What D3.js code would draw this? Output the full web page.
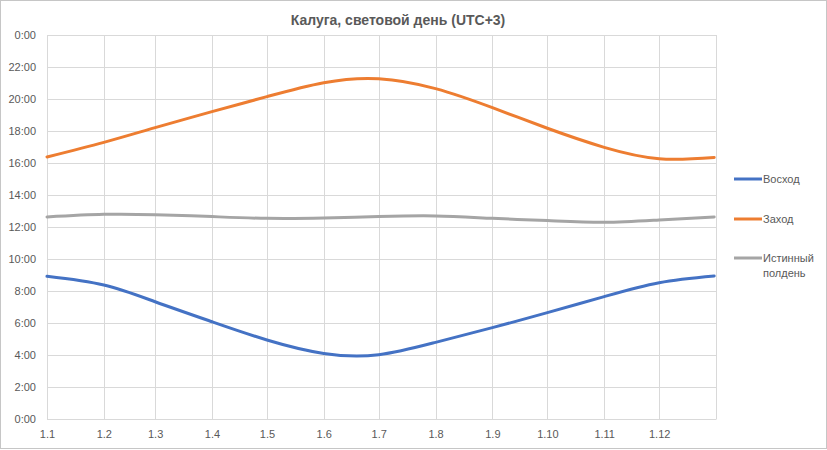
<!DOCTYPE html>
<html>
<head>
<meta charset="utf-8">
<script src="https://cdn.jsdelivr.net/npm/d3@7"></script>
<style>
  html, body { margin: 0; padding: 0; background: #fff; }
  svg { display: block; }
  text { font-family: "Liberation Sans", "DejaVu Sans", sans-serif; fill: #595959; }
</style>
</head>
<body>
<svg id="chart" width="827" height="450"></svg>
<script>
// ---- Data (hours, UTC+3) ----
const dates = ["2023-01-01","2023-02-01","2023-03-01","2023-04-01","2023-05-01","2023-06-01","2023-07-01","2023-08-01","2023-09-01","2023-10-01","2023-11-01","2023-12-01","2023-12-31"];
const sunriseValues = [8.92, 8.375, 7.33, 6.08, 4.94, 4.10, 4.02, 4.79, 5.71, 6.65, 7.65, 8.52, 8.94];
const sunsetValues  = [16.375, 17.29, 18.21, 19.21, 20.15, 21.02, 21.27, 20.65, 19.46, 18.17, 16.98, 16.27, 16.35];
const noonValues    = [12.625, 12.79, 12.77, 12.65, 12.54, 12.56, 12.65, 12.69, 12.54, 12.40, 12.29, 12.44, 12.63];

const seriesNames = ["Восход", "Заход", "Истинный полдень"];
const seriesColors = ["#4472C4", "#ED7D31", "#A5A5A5"];
const yTickValues = [0, 2, 4, 6, 8, 10, 12, 14, 16, 18, 20, 22, 24];
const titleText = "Калуга, световой день (UTC+3)";
const xDomain = ["2023-01-01", "2024-01-01"];

// ---- Build ----
const parse = d3.utcParse("%Y-%m-%d");
const mk = vs => dates.map((d, i) => ({ date: parse(d), v: vs[i] }));
const series = [mk(sunriseValues), mk(sunsetValues), mk(noonValues)];

const svg = d3.select("#chart");
const W = 827, H = 450;
const plot = { left: 47, right: 716, top: 35, bottom: 419 };

// outer border
svg.append("rect").attr("x", 0.5).attr("y", 0.5).attr("width", W - 1).attr("height", H - 2)
  .attr("fill", "#fff").attr("stroke", "#c6c6c6");

const x = d3.scaleUtc().domain(xDomain.map(parse)).range([plot.left, plot.right]);
const y = d3.scaleLinear().domain([0, 24]).range([plot.bottom, plot.top]);

const monthTicks = d3.utcMonth.range(parse(xDomain[0]), parse(xDomain[1]));

// gridlines
const grid = svg.append("g").attr("stroke", "#d9d9d9").attr("stroke-width", 1);
yTickValues.forEach(v => {
  const yy = Math.round(y(v)) + 0.5;
  grid.append("line").attr("x1", plot.left).attr("x2", plot.right + 0.5).attr("y1", yy).attr("y2", yy);
});
monthTicks.concat([parse(xDomain[1])]).forEach(d => {
  const xx = Math.round(x(d)) + 0.5;
  grid.append("line").attr("x1", xx).attr("x2", xx).attr("y1", plot.top).attr("y2", plot.bottom);
});

// y axis labels
const yAxis = d3.axisLeft(y).tickValues(yTickValues).tickSize(0).tickPadding(11)
  .tickFormat(v => (v % 24) + ":00");
const gy = svg.append("g").attr("transform", `translate(${plot.left},0)`).call(yAxis);
gy.select(".domain").remove();
gy.selectAll("text").attr("font-size", 11).style("fill", "#595959")
  .style("font-family", "'Liberation Sans', sans-serif");

// x axis labels
const xAxis = d3.axisBottom(x).tickValues(monthTicks).tickSize(0).tickPadding(11)
  .tickFormat(d3.utcFormat("%-d.%-m"));
const gx = svg.append("g").attr("transform", `translate(0,${plot.bottom})`).call(xAxis);
gx.select(".domain").remove();
gx.selectAll("text").attr("font-size", 11).style("fill", "#595959")
  .style("font-family", "'Liberation Sans', sans-serif");

// lines
const line = d3.line().x(d => x(d.date)).y(d => y(d.v)).curve(d3.curveNatural);
series.forEach((s, i) => {
  svg.append("path").datum(s).attr("d", line).attr("fill", "none")
    .attr("stroke", seriesColors[i]).attr("stroke-width", 3).attr("stroke-linecap", "round");
});

// title
svg.append("text").attr("x", 398).attr("y", 25).attr("text-anchor", "middle")
  .attr("font-size", 14).attr("font-weight", "bold").text(titleText);

// legend
const legendY = [179, 219, 258];
seriesNames.forEach((name, i) => {
  const g = svg.append("g");
  g.append("line").attr("x1", 734).attr("x2", 762).attr("y1", legendY[i]).attr("y2", legendY[i])
    .attr("stroke", seriesColors[i]).attr("stroke-width", 3);
  const words = name.split(" ");
  words.forEach((w, j) => {
    g.append("text").attr("x", 763).attr("y", legendY[i] + 4 + j * 15).attr("font-size", 11).text(w);
  });
});
</script>
</body>
</html>
